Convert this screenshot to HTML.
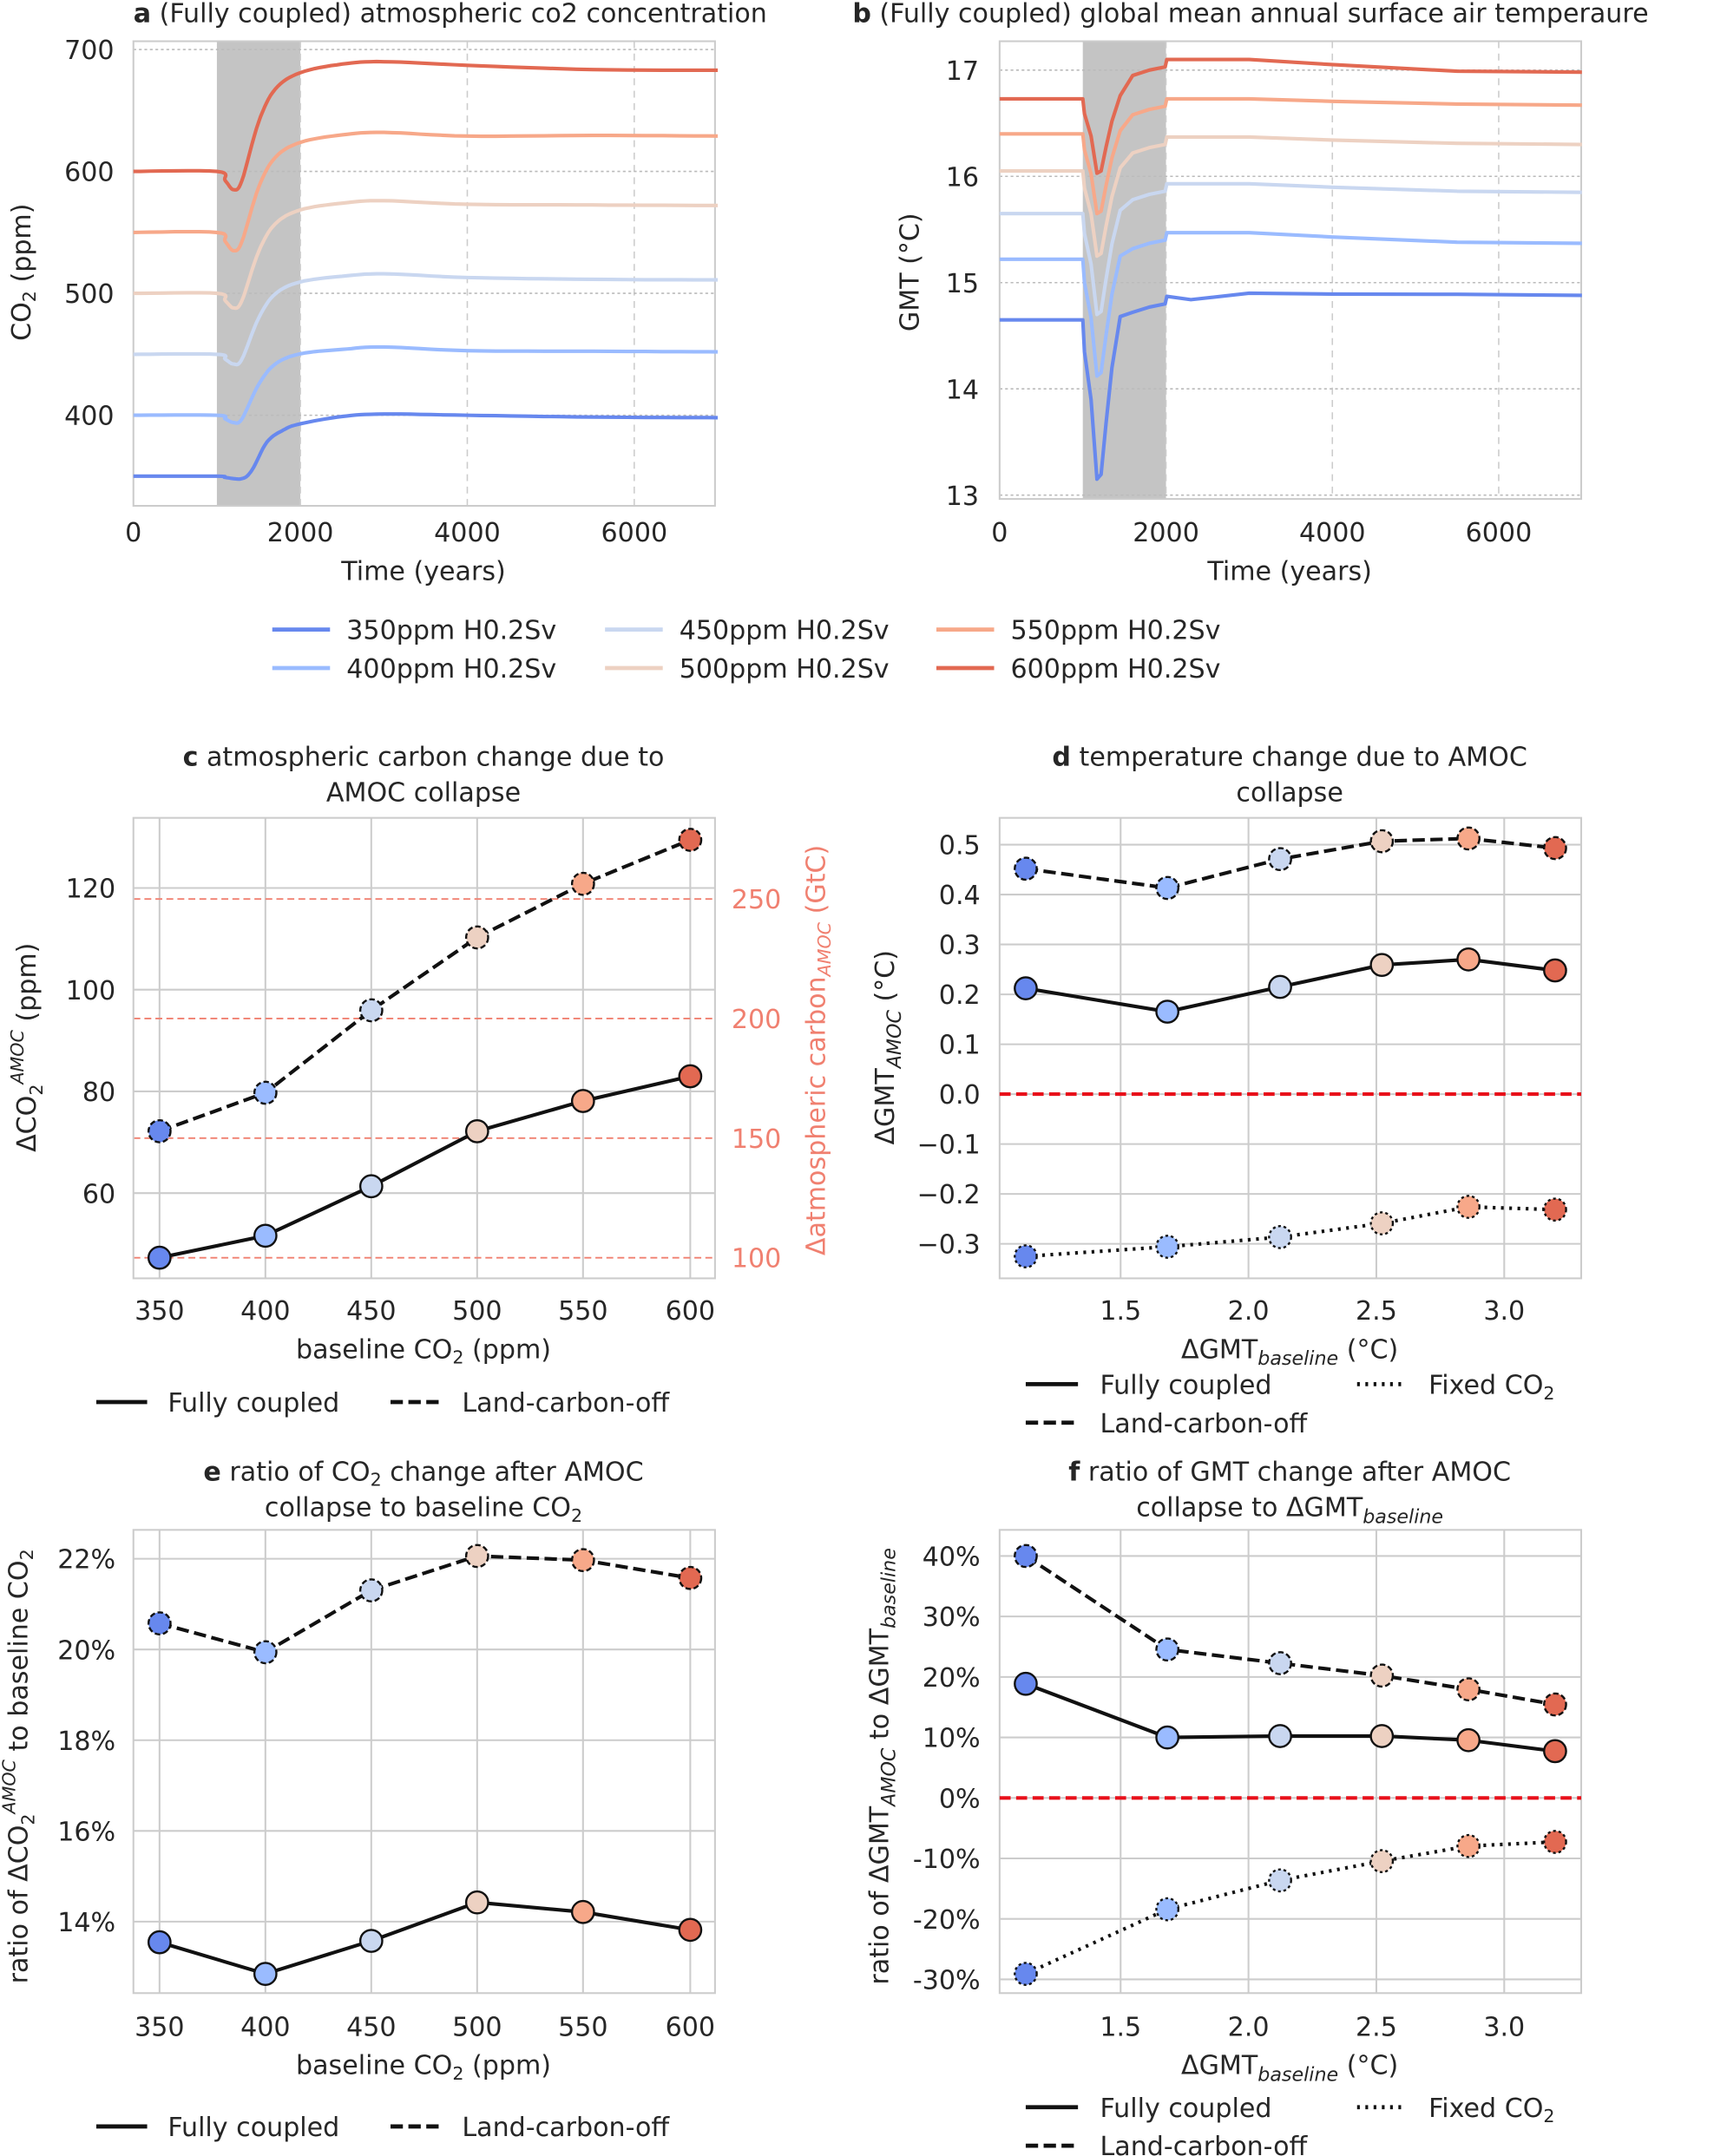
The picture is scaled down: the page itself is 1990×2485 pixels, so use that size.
<!DOCTYPE html>
<html><head><meta charset="utf-8">
<style>
html,body{margin:0;padding:0;background:#fff;}
svg{display:block;}
text{font-family:"DejaVu Sans","Liberation Sans",sans-serif;fill:#262626;}
</style></head>
<body>
<svg id="s" xmlns="http://www.w3.org/2000/svg" width="1990" height="2485" viewBox="0 0 1256 1568.5"></svg>
<script>
const S=document.getElementById('s');
let h='';
const C=['#6788ee','#9abbff','#c9d7f0','#edd1c2','#f7a889','#e26952'];
function T(x,y,t,o){o=o||{};h+=`<text x="${x}" y="${y}" font-size="${o.fs||19}" text-anchor="${o.a||'start'}" ${o.fill?`style="fill:${o.fill}"`:''} ${o.rot?`transform="rotate(-90 ${x} ${y})"`:''} ${o.fw?`font-weight="bold"`:''}>${t}</text>`;}
function L(x1,y1,x2,y2,st,w,d){h+=`<line x1="${x1}" y1="${y1}" x2="${x2}" y2="${y2}" stroke="${st}" stroke-width="${w||1}" ${d?`stroke-dasharray="${d}"`:''}/>`;}
function P(pts,st,w,d){h+=`<polyline fill="none" stroke="${st}" stroke-width="${w}" stroke-linejoin="round" ${d?`stroke-dasharray="${d}"`:''} points="${pts.map(p=>p[0].toFixed(1)+','+p[1].toFixed(1)).join(' ')}"/>`;}
function R(x,y,w,hh,f,st){h+=`<rect x="${x}" y="${y}" width="${w}" height="${hh}" fill="${f}" ${st?`stroke="${st}" stroke-width="1.3"`:''}/>`;}
function Ci(x,y,f,d){h+=`<circle cx="${x}" cy="${y}" r="8" fill="${f}" stroke="#111" stroke-width="1.5" ${d?`stroke-dasharray="${d}"`:''}/>`;}
function smooth(pts,n){
 let out=[];for(let i=0;i<pts.length-1;i++){const p0=pts[Math.max(0,i-1)],p1=pts[i],p2=pts[i+1],p3=pts[Math.min(pts.length-1,i+2)];
 for(let k=0;k<n;k++){const t=k/n,t2=t*t,t3=t2*t;
 out.push([0.5*(2*p1[0]+(-p0[0]+p2[0])*t+(2*p0[0]-5*p1[0]+4*p2[0]-p3[0])*t2+(-p0[0]+3*p1[0]-3*p2[0]+p3[0])*t3),
 0.5*(2*p1[1]+(-p0[1]+p2[1])*t+(2*p0[1]-5*p1[1]+4*p2[1]-p3[1])*t2+(-p0[1]+3*p1[1]-3*p2[1]+p3[1])*t3)]);}}
 out.push(pts[pts.length-1]);return out;}

// ---- Panel a
{const X=t=>97+t*0.06071,Y=v=>36+(700-v)*0.887;
R(97,30,423,338,'#fff');
R(X(1000),30,X(2000)-X(1000),338,'#c4c4c4');
[0,2000,4000,6000].forEach(t=>{if(t>0)L(X(t),30,X(t),368,'#ccc',1,'5,4');T(X(t),394,t,{a:'middle'});});
[400,500,600,700].forEach(v=>{L(97,Y(v),520,Y(v),'#bbb',1,'2,2');T(83,Y(v)+7,v,{a:'end'});});
R(97,30,423,338,'none','#ccc');
const B=[350,400,450,500,550,600],PK=[401,456,516,576,632,690],FN=[398,452,511,572,629,683],DP=[2,6,8,12,15,15];
B.forEach((b,i)=>{let pts;
 if(i==0)pts=[[0,b],[1000,b],[1100,b-1],[1300,b-2],[1420,b+5],[1600,b+28],[1800,b+38],[2000,b+43],[2500,b+49],[3000,PK[i]],[4000,PK[i]-1],[5500,FN[i]+0.5],[7000,FN[i]]];
 else pts=[[0,b],[1000,b],[1100,b-DP[i]*0.5],[1200,b-DP[i]],[1300,b-DP[i]*0.5],[1500,b+(PK[i]-b)*0.45],[1700,b+(PK[i]-b)*0.75],[2000,b+(PK[i]-b)*0.9],[2500,PK[i]-2],[3000,PK[i]],[4000,PK[i]-3],[5500,FN[i]+0.5],[7000,FN[i]]];
 P(smooth(pts.map(p=>[X(p[0]),Y(p[1])]),8),C[i],2.6);});
T(22,198,'CO<tspan font-size="13" dy="4">2</tspan><tspan dy="-4"> (ppm)</tspan>',{a:'middle',rot:1});
T(308,422,'Time (years)',{a:'middle'});
T(97,16,'<tspan font-weight="bold">a</tspan> (Fully coupled) atmospheric co2 concentration',{});
}
// ---- Panel b
{const X=t=>727+t*0.0605,Y=v=>51+(17-v)*77.3;
R(X(1000),30,X(2000)-X(1000),333,'#c4c4c4');
[0,2000,4000,6000].forEach(t=>{if(t>0)L(X(t),30,X(t),363,'#ccc',1,'5,4');T(X(t),394,t,{a:'middle'});});
[13,14,15,16,17].forEach(v=>{L(727,Y(v),1150,Y(v),'#bbb',1,'2,2');T(712,Y(v)+7,v,{a:'end'});});
R(727,30,423,333,'none','#ccc');
const B=[14.65,15.22,15.65,16.05,16.4,16.73],D=[1.5,1.1,0.95,0.8,0.75,0.7],A=[14.87,15.47,15.93,16.37,16.73,17.1],E=[14.88,15.37,15.85,16.3,16.67,16.98],PK=[14.9,15.47,15.93,16.37,16.73,17.1];
B.forEach((b,i)=>{const pts=[[0,b],[1000,b],[1020,b-0.2*D[i]],[1100,b-0.5*D[i]],[1170,b-D[i]],[1220,b-0.97*D[i]],[1280,b-0.65*D[i]],[1350,b-0.3*D[i]],[1450,b+0.03],[1600,A[i]-0.15],[1800,A[i]-0.1],[1990,A[i]-0.07],[2010,A[i]],[2300,(i==0?A[i]-0.03:A[i])],[3000,PK[i]],[4000,PK[i]-(PK[i]-E[i])*0.4],[5500,E[i]+0.01],[7000,E[i]]];
 P(pts.map(p=>[X(p[0]),Y(p[1])]),C[i],2.6);});
T(668,198,'GMT (°C)',{a:'middle',rot:1});
T(938,422,'Time (years)',{a:'middle'});
T(620,16,'<tspan font-weight="bold">b</tspan> (Fully coupled) global mean annual surface air temperaure',{});
}
// ---- legend a/b
{const lab=['350ppm H0.2Sv','400ppm H0.2Sv','450ppm H0.2Sv','500ppm H0.2Sv','550ppm H0.2Sv','600ppm H0.2Sv'],xs=[198,440,681],ys=[458,486];
lab.forEach((l,i)=>{const c=Math.floor(i/2),r=i%2;L(xs[c],ys[r],xs[c]+42,ys[r],C[i],3);T(xs[c]+54,ys[r]+7,l,{});});}

function axes(x0,y0,x1,y1){R(x0,y0,x1-x0,y1-y0,'#fff');}
function frame(x0,y0,x1,y1){R(x0,y0,x1-x0,y1-y0,'none','#ccc');}
const cx=[116,193,270,347,424,502],dx=[746,849,931,1005,1068,1131];
// ---- Panel c
{axes(97,595,520,930);
cx.forEach((x,i)=>{L(x,595,x,930,'#ccc',1.3);T(x,960,350+50*i,{a:'middle'});});
[[120,646],[100,720],[80,794],[60,868]].forEach(a=>{L(97,a[1],520,a[1],'#ccc',1.3);T(84,a[1]+7,a[0],{a:'end'});});
[[250,654],[200,741],[150,828],[100,915]].forEach(a=>{L(97,a[1],520,a[1],'#f08070',1.2,'5,3');T(532,a[1]+7,a[0],{fill:'#f08070'});});
frame(97,595,520,930);
const s=[915,899,863,823,801,783],d=[823,795,735,682,643,611];
P(cx.map((x,i)=>[x,s[i]]),'#111',2.6);P(cx.map((x,i)=>[x,d[i]]),'#111',2.6,'9,4');
cx.forEach((x,i)=>Ci(x,s[i],C[i]));cx.forEach((x,i)=>Ci(x,d[i],C[i],'4,2'));
T(308,988,'baseline CO<tspan font-size="13" dy="4">2</tspan><tspan dy="-4"> (ppm)</tspan>',{a:'middle'});
T(26,762,'ΔCO<tspan font-size="13" dy="5">2</tspan><tspan font-size="13" dy="-14" font-style="italic">AMOC</tspan><tspan dy="9"> (ppm)</tspan>',{a:'middle',rot:1});
T(600,764,'Δatmospheric carbon<tspan font-size="13" dy="4" font-style="italic">AMOC</tspan><tspan dy="-4"> (GtC)</tspan>',{a:'middle',rot:1,fill:'#f08070'});
T(308,557,'<tspan font-weight="bold">c</tspan> atmospheric carbon change due to',{a:'middle'});T(308,583,'AMOC collapse',{a:'middle'});
L(70,1020,107,1020,'#111',3);T(122,1027,'Fully coupled');L(284,1020,320,1020,'#111',3,'9,4');T(336,1027,'Land-carbon-off');
}
// ---- Panel d
{axes(727,595,1150,930);
[[1.5,815],[2.0,908],[2.5,1001],[3.0,1094]].forEach(a=>{L(a[1],595,a[1],930,'#ccc',1.3);T(a[1],960,a[0].toFixed(1),{a:'middle'});});
for(let v=-3;v<=5;v++){const y=796-v*36.3;L(727,y,1150,y,'#ccc',1.3);T(713,y+7,(v<0?'−':'')+(Math.abs(v)/10).toFixed(1),{a:'end'});}
frame(727,595,1150,930);
L(727,796,1150,796,'#e8101a',2.6,'8,4');
const s=[719,736,718,702,698,706],d=[632,646,625,612,610,617],f=[914,907,900,890,878,880];
P(dx.map((x,i)=>[x,s[i]]),'#111',2.6);P(dx.map((x,i)=>[x,d[i]]),'#111',2.6,'9,4');P(dx.map((x,i)=>[x,f[i]]),'#111',2.6,'2,4');
dx.forEach((x,i)=>Ci(x,s[i],C[i]));dx.forEach((x,i)=>Ci(x,d[i],C[i],'4,2'));dx.forEach((x,i)=>Ci(x,f[i],C[i],'2,2'));
T(938,988,'ΔGMT<tspan font-size="14" dy="5" font-style="italic">baseline</tspan><tspan dy="-5"> (°C)</tspan>',{a:'middle'});
T(650,762,'ΔGMT<tspan font-size="14" dy="5" font-style="italic">AMOC</tspan><tspan dy="-5"> (°C)</tspan>',{a:'middle',rot:1});
T(938,557,'<tspan font-weight="bold">d</tspan> temperature change due to AMOC',{a:'middle'});T(938,583,'collapse',{a:'middle'});
L(746,1007,784,1007,'#111',3);T(800,1014,'Fully coupled');L(987,1007,1023,1007,'#111',3,'2,4');T(1039,1014,'Fixed CO<tspan font-size="13" dy="4">2</tspan>');
L(746,1035,784,1035,'#111',3,'9,4');T(800,1042,'Land-carbon-off');
}
// ---- Panel e
{axes(97,1113,520,1450);
cx.forEach((x,i)=>{L(x,1113,x,1450,'#ccc',1.3);T(x,1481,350+50*i,{a:'middle'});});
[[22,1134],[20,1200],[18,1266],[16,1332],[14,1398]].forEach(a=>{L(97,a[1],520,a[1],'#ccc',1.3);T(84,a[1]+7,a[0]+'%',{a:'end'});});
frame(97,1113,520,1450);
const s=[1413,1436,1412,1384,1391,1404],d=[1181,1202,1157,1132,1135,1148];
P(cx.map((x,i)=>[x,s[i]]),'#111',2.6);P(cx.map((x,i)=>[x,d[i]]),'#111',2.6,'9,4');
cx.forEach((x,i)=>Ci(x,s[i],C[i]));cx.forEach((x,i)=>Ci(x,d[i],C[i],'4,2'));
T(308,1509,'baseline CO<tspan font-size="13" dy="4">2</tspan><tspan dy="-4"> (ppm)</tspan>',{a:'middle'});
T(20,1285,'ratio of ΔCO<tspan font-size="13" dy="5">2</tspan><tspan font-size="13" dy="-14" font-style="italic">AMOC</tspan><tspan dy="9"> to baseline CO</tspan><tspan font-size="13" dy="4">2</tspan>',{a:'middle',rot:1});
T(308,1077,'<tspan font-weight="bold">e</tspan> ratio of CO<tspan font-size="13" dy="4">2</tspan><tspan dy="-4"> change after AMOC</tspan>',{a:'middle'});
T(308,1103,'collapse to baseline CO<tspan font-size="13" dy="4">2</tspan>',{a:'middle'});
L(70,1547,107,1547,'#111',3);T(122,1554,'Fully coupled');L(284,1547,320,1547,'#111',3,'9,4');T(336,1554,'Land-carbon-off');
}
// ---- Panel f
{axes(727,1113,1150,1450);
[[1.5,815],[2.0,908],[2.5,1001],[3.0,1094]].forEach(a=>{L(a[1],1113,a[1],1450,'#ccc',1.3);T(a[1],1481,a[0].toFixed(1),{a:'middle'});});
for(let v=-3;v<=4;v++){const y=1308-v*44;L(727,y,1150,y,'#ccc',1.3);T(713,y+7,(v*10)+'%',{a:'end'});}
frame(727,1113,1150,1450);
L(727,1308,1150,1308,'#e8101a',2.6,'8,4');
const s=[1225,1264,1263,1263,1266,1274],d=[1132,1200,1210,1219,1229,1240],f=[1436,1389,1368,1354,1343,1340];
P(dx.map((x,i)=>[x,s[i]]),'#111',2.6);P(dx.map((x,i)=>[x,d[i]]),'#111',2.6,'9,4');P(dx.map((x,i)=>[x,f[i]]),'#111',2.6,'2,4');
dx.forEach((x,i)=>Ci(x,s[i],C[i]));dx.forEach((x,i)=>Ci(x,d[i],C[i],'4,2'));dx.forEach((x,i)=>Ci(x,f[i],C[i],'2,2'));
T(938,1509,'ΔGMT<tspan font-size="14" dy="5" font-style="italic">baseline</tspan><tspan dy="-5"> (°C)</tspan>',{a:'middle'});
T(646,1285,'ratio of ΔGMT<tspan font-size="14" dy="5" font-style="italic">AMOC</tspan><tspan dy="-5"> to ΔGMT</tspan><tspan font-size="14" dy="5" font-style="italic">baseline</tspan>',{a:'middle',rot:1});
T(938,1077,'<tspan font-weight="bold">f</tspan> ratio of GMT change after AMOC',{a:'middle'});
T(938,1103,'collapse to ΔGMT<tspan font-size="14" dy="5" font-style="italic">baseline</tspan>',{a:'middle'});
L(746,1533,784,1533,'#111',3);T(800,1540,'Fully coupled');L(987,1533,1023,1533,'#111',3,'2,4');T(1039,1540,'Fixed CO<tspan font-size="13" dy="4">2</tspan>');
L(746,1561,784,1561,'#111',3,'9,4');T(800,1568,'Land-carbon-off');
}
S.innerHTML=h;
</script>
</body></html>
